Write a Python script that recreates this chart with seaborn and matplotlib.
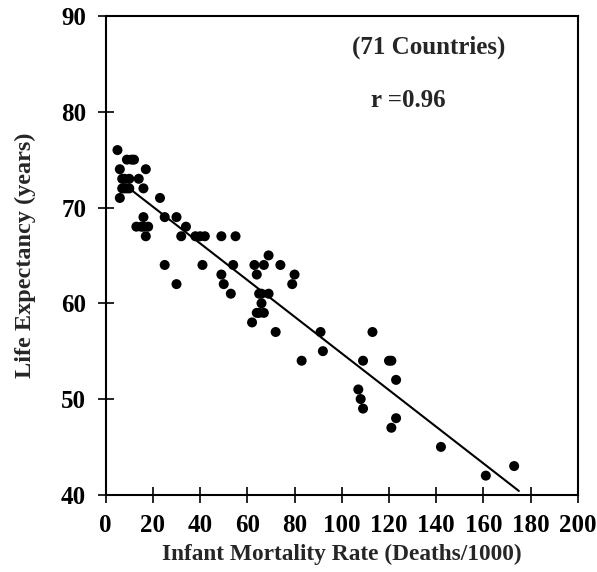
import matplotlib
matplotlib.use("Agg")
import matplotlib.pyplot as plt
import seaborn as sns
import pandas as pd


# Data (71 countries)
infant_mortality = [5, 9, 11, 12, 6, 17, 7, 8, 10, 14, 8, 9, 10, 7, 16, 6, 23,
                    16, 25, 30, 13, 15, 16, 18, 34, 17, 32, 38, 40, 42, 49, 55,
                    25, 41, 54, 30, 49, 50, 53, 63, 67, 69, 74, 64, 80, 79, 65,
                    66, 69, 66, 64, 65, 67, 62, 72, 91, 92, 83, 113, 109, 120,
                    121, 123, 107, 108, 109, 123, 121, 142, 161, 173]
life_expectancy = [76, 75, 75, 75, 74, 74, 73, 73, 73, 73, 72, 72, 72, 72, 72,
                   71, 71, 69, 69, 69, 68, 68, 68, 68, 68, 67, 67, 67, 67, 67,
                   67, 67, 64, 64, 64, 62, 63, 62, 61, 64, 64, 65, 64, 63, 63,
                   62, 61, 61, 61, 60, 59, 59, 59, 58, 57, 57, 55, 54, 57, 54,
                   54, 54, 52, 51, 50, 49, 48, 47, 45, 42, 43]

# Regression line as drawn in the original
fit_x = [10, 175]
fit_y = [72, 40.4]

df = pd.DataFrame({"imr": infant_mortality, "le": life_expectancy})
fit = pd.DataFrame({"x": fit_x, "y": fit_y})

sns.set_style("ticks")
plt.rcParams["font.family"] = ["Liberation Serif", "DejaVu Serif"]
plt.rcParams["font.weight"] = "bold"

fig = plt.figure(figsize=(5.97, 5.72), dpi=100)
ax = fig.add_axes([0.177, 0.135, 0.791, 0.837])

sns.scatterplot(data=df, x="imr", y="le", ax=ax, color="black", s=52,
                edgecolor="none", linewidth=0)
sns.lineplot(data=fit, x="x", y="y", ax=ax, color="black", linewidth=1.5)

ax.set_xlim(0, 200)
ax.set_ylim(40, 90)
ax.set_xticks(range(0, 201, 20))
ax.set_yticks(range(40, 91, 10))
ax.tick_params(direction="inout", length=12, width=1.2, labelsize=18,
               colors="black", pad=8)
for lab in ax.get_xticklabels() + ax.get_yticklabels():
    lab.set_fontweight("bold")
for side in ["left", "bottom", "top", "right"]:
    ax.spines[side].set_visible(True)
    ax.spines[side].set_linewidth(1.5)
    ax.spines[side].set_color("black")

ax.set_xlabel("Infant Mortality Rate (Deaths/1000)", fontsize=16.8,
              fontweight="bold", labelpad=5)
ax.set_ylabel("Life Expectancy (years)", fontsize=17.5, fontweight="bold",
              labelpad=18)

ax.text(137, 86.7, "(71 Countries)", ha="center", va="center", fontsize=18,
        fontweight="bold")
ax.text(128, 81.2, "r =0.96", ha="center", va="center", fontsize=18,
        fontweight="bold")

fig.savefig("out.png", dpi=100)
